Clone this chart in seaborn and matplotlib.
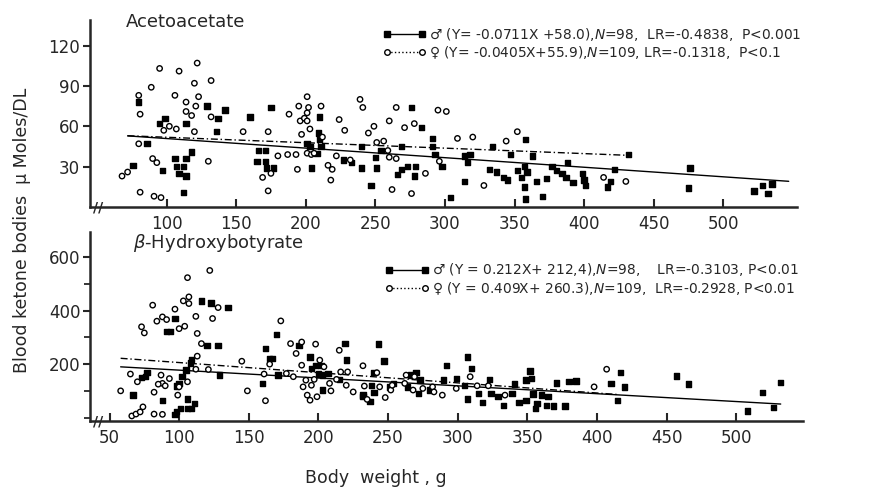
import numpy as np
import pandas as pd
import matplotlib
matplotlib.use('Agg')
import matplotlib.pyplot as plt
from matplotlib.lines import Line2D
from matplotlib.ticker import MultipleLocator
import seaborn as sns

# Acetoacetate, males (filled squares)
aa_m_x = [76, 80, 86, 95, 99, 97, 106, 107, 109, 112, 114, 114, 114, 118, 112, 129, 137, 136, 142, 160,
          165, 166, 171, 171, 172, 177, 175, 201, 203, 204, 210, 209, 210, 211, 208, 227, 233, 240, 240, 247,
          250, 251, 254, 269, 266, 269, 273, 279, 278, 276, 283, 291, 291, 293, 298, 304, 314, 316, 318, 314,
          332, 337, 334, 342, 345, 347, 352, 355, 357, 359, 358, 363, 357, 358, 366, 370, 373, 377, 380, 384,
          387, 388, 392, 399, 400, 401, 417, 419, 422, 432, 476, 475, 522, 528, 532, 535]
aa_m_y = [31, 78, 47, 62, 66, 27, 36, 30, 25, 30, 36, 23, 62, 41, 11, 75, 66, 56, 72, 67,
          34, 42, 42, 34, 29, 29, 74, 47, 45, 29, 67, 55, 50, 45, 40, 35, 33, 29, 45, 16,
          37, 29, 42, 45, 24, 28, 30, 30, 23, 74, 59, 51, 45, 39, 30, 7, 38, 33, 39, 19,
          28, 26, 45, 22, 20, 39, 27, 22, 30, 26, 50, 38, 15, 6, 19, 8, 21, 30, 27, 25,
          22, 33, 18, 25, 20, 16, 15, 19, 28, 39, 29, 14, 12, 16, 10, 17]

# Acetoacetate, females (open circles)
aa_f_x = [68, 72, 80, 81, 80, 81, 89, 90, 93, 91, 96, 95, 98, 102, 107, 106, 109, 114, 114, 118,
          120, 121, 123, 122, 120, 132, 132, 130, 155, 173, 169, 175, 173, 180, 187, 188, 193, 194, 195, 197,
          196, 199, 201, 201, 201, 201, 203, 202, 204, 206, 211, 212, 216, 219, 218, 224, 228, 222, 232, 239,
          241, 245, 249, 251, 256, 260, 259, 260, 265, 265, 262, 271, 278, 286, 276, 295, 301, 296, 309, 320,
          328, 344, 352, 414, 430]
aa_f_y = [23, 26, 83, 69, 47, 11, 89, 36, 33, 8, 7, 103, 57, 60, 58, 83, 101, 71, 78, 68,
          92, 75, 82, 107, 56, 94, 67, 34, 56, 56, 22, 25, 12, 38, 39, 69, 39, 28, 75, 54,
          64, 66, 70, 82, 64, 40, 58, 74, 39, 40, 75, 52, 31, 28, 20, 65, 57, 38, 35, 80,
          74, 55, 60, 48, 49, 64, 42, 37, 36, 74, 13, 59, 62, 25, 10, 72, 71, 34, 51, 52,
          16, 49, 56, 22, 19]

# beta-Hydroxybutyrate, males
hb_m_x = [67, 76, 73, 77, 88, 97, 91, 94, 97, 98, 101, 106, 109, 98, 100, 102, 105, 106, 111, 109,
          108, 116, 120, 123, 128, 135, 129, 160, 165, 162, 170, 167, 171, 186, 194, 195, 198, 200, 202, 203,
          207, 203, 215, 219, 220, 232, 237, 240, 238, 243, 247, 251, 254, 266, 270, 273, 264, 272, 280, 292,
          290, 299, 307, 310, 305, 307, 315, 318, 323, 324, 329, 333, 339, 341, 344, 349, 349, 353, 352, 354,
          356, 357, 360, 365, 364, 369, 371, 377, 380, 385, 410, 417, 420, 415, 457, 466, 508, 519, 527, 532,
          240, 232]
hb_m_y = [84, 153, 150, 168, 65, 371, 323, 323, 12, 22, 34, 33, 34, 118, 128, 153, 178, 69, 53, 218,
          205, 436, 271, 429, 271, 412, 159, 128, 221, 259, 312, 221, 159, 271, 227, 184, 194, 163, 196, 159,
          165, 103, 143, 277, 215, 84, 59, 93, 119, 275, 212, 115, 128, 159, 168, 140, 115, 90, 103, 194,
          140, 146, 227, 184, 119, 69, 90, 57, 143, 90, 78, 44, 90, 125, 57, 65, 140, 146, 174, 88,
          34, 53, 84, 78, 44, 43, 130, 43, 134, 137, 128, 168, 115, 65, 155, 125, 24, 93, 38, 132,
          168, 80]

# beta-Hydroxybutyrate, females
hb_f_x = [58, 65, 70, 73, 75, 66, 69, 72, 74, 81, 82, 84, 82, 88, 88, 87, 88, 91, 90, 93,
          97, 100, 104, 106, 103, 107, 107, 112, 113, 116, 113, 112, 106, 99, 100, 122, 124, 121, 128, 145,
          149, 162, 161, 165, 173, 180, 184, 182, 177, 188, 188, 189, 192, 194, 191, 197, 198, 199, 195, 201,
          204, 208, 209, 213, 215, 216, 221, 220, 225, 232, 233, 235, 242, 244, 248, 252, 253, 263, 268, 275,
          282, 289, 262, 269, 283, 299, 309, 314, 322, 334, 398, 407, 85]
hb_f_y = [100, 163, 134, 340, 317, 6, 13, 21, 40, 421, 95, 361, 13, 377, 12, 159, 128, 367, 119, 146,
          406, 333, 342, 524, 437, 452, 427, 379, 315, 277, 230, 181, 134, 84, 115, 551, 371, 180, 412, 211,
          100, 63, 163, 200, 362, 277, 240, 153, 165, 283, 196, 115, 84, 65, 140, 143, 275, 78, 121, 215,
          190, 128, 100, 143, 252, 171, 171, 121, 96, 194, 118, 68, 168, 115, 75, 103, 121, 159, 103, 109,
          115, 84, 128, 153, 96, 109, 153, 119, 119, 84, 115, 181, 125]

# regression lines: slope, intercept, x start, x end
aa_fit_m = [-0.0711, 58.0, 72, 547]
aa_fit_f = [-0.0405, 55.9, 72, 433]
hb_fit_m = [-0.294, 207.0, 58, 532]
hb_fit_f = [-0.38, 244.0, 58, 415]

aa_labels = ['\u2642 (Y= -0.0711X +58.0),$N$=98,  LR=-0.4838,  P<0.001',
             '\u2640 (Y= -0.0405X+55.9),$N$=109, LR=-0.1318,  P<0.1']
hb_labels = ['\u2642 (Y = 0.212X+ 212,4),$N$=98,    LR=-0.3103, P<0.01',
             '\u2640 (Y = 0.409X+ 260.3),$N$=109,  LR=-0.2928, P<0.01']

sns.set_style('ticks')
plt.rcParams['font.family'] = ['DejaVu Sans']

fig = plt.figure(figsize=(8.86, 4.93), dpi=100)
ax1 = fig.add_axes([0.1016, 0.5801, 0.798, 0.3793])
ax2 = fig.add_axes([0.1016, 0.146, 0.8047, 0.3834])


def panel(ax, mx, my, fx, fy, fit_m, fit_f, labels, title, title_xy, leg_y):
    df = pd.concat([pd.DataFrame({'w': mx, 'v': my, 'sex': 'M'}),
                    pd.DataFrame({'w': fx, 'v': fy, 'sex': 'F'})], ignore_index=True)
    sns.scatterplot(data=df, x='w', y='v', hue='sex', style='sex',
                    palette={'M': 'black', 'F': 'white'}, markers={'M': 's', 'F': 'o'},
                    s=15, edgecolor='black', linewidth=1.0, legend=False, ax=ax, zorder=3)
    for fit, ls in ((fit_m, '-'), (fit_f, (0, (5, 2, 1, 2)))):
        xs = np.array(fit[2:])
        ax.plot(xs, fit[0] * xs + fit[1], color='black', lw=1.0, ls=ls, zorder=2)

    handles = [Line2D([], [], color='black', lw=1.0, marker='s', markersize=4),
               Line2D([], [], color='black', lw=1.0, ls=':', marker='o', markersize=4,
                      markerfacecolor='white')]
    ax.legend(handles, labels, loc='upper left', bbox_to_anchor=(0.40, leg_y), frameon=False,
              fontsize=9.9, numpoints=2, handlelength=3.2, handletextpad=0.2, labelspacing=0.1,
              borderpad=0.2)
    ax.text(title_xy[0], title_xy[1], title, transform=ax.transAxes, fontsize=13,
            ha='left', va='center')
    ax.text(0.012, 0.0, '//', transform=ax.transAxes, fontsize=10, fontweight='bold',
            ha='center', va='center', zorder=5)

    sns.despine(ax=ax)
    for side in ('left', 'bottom'):
        ax.spines[side].set_linewidth(1.8)
    ax.tick_params(axis='x', direction='in', length=6, width=1.5, labelsize=12, pad=6)
    ax.tick_params(axis='y', direction='out', length=5, width=1.5, labelsize=12, pad=2)
    ax.set_xlabel('')
    ax.set_ylabel('')


panel(ax1, aa_m_x, aa_m_y, aa_f_x, aa_f_y, aa_fit_m, aa_fit_f, aa_labels,
      'Acetoacetate', (0.05, 0.99), 1.02)
ax1.set_xlim(45, 553)
ax1.set_ylim(0, 139)
ax1.set_xticks(range(100, 501, 50))
ax1.set_yticks([30, 60, 90, 120])

panel(ax2, hb_m_x, hb_m_y, hb_f_x, hb_f_y, hb_fit_m, hb_fit_f, hb_labels,
      '$\\beta$-Hydroxybotyrate', (0.06, 0.94), 0.895)
ax2.set_xlim(36, 548)
ax2.set_ylim(-13, 695)
ax2.set_xticks(range(50, 501, 50))
ax2.set_yticks([200, 400, 600])
ax2.yaxis.set_minor_locator(MultipleLocator(100))
ax2.tick_params(axis='y', which='minor', direction='out', length=4, width=1.3)

fig.text(0.025, 0.533, 'Blood ketone bodies  \u03bc Moles/DL', rotation=90,
         ha='center', va='center', fontsize=12.5)
fig.text(0.424, 0.03, 'Body  weight , g', ha='center', va='center', fontsize=12.5)

fig.savefig('out.png', dpi=100)
